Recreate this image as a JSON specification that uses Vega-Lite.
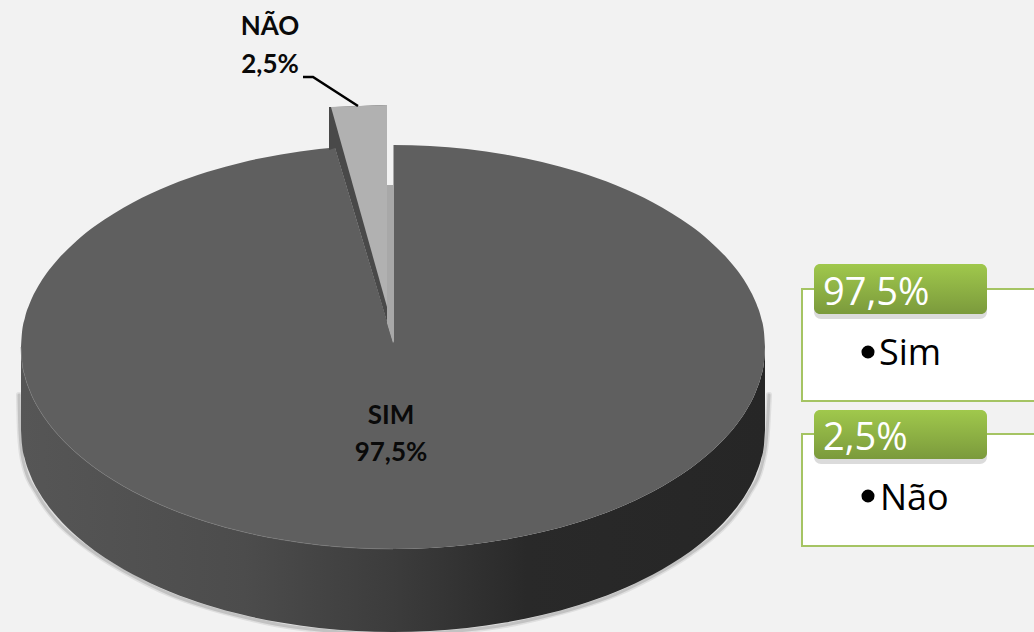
{"$schema":"https://vega.github.io/schema/vega-lite/v6.json","width":1034,"height":632,"padding":0,"autosize":{"type":"none"},"background":"#f2f2f2","config":{"view":{"stroke":null}},
"datasets":{
"disc":[{"x":21,"y":347,"y2":347,"y3":430},{"x":22,"y":332.2,"y2":361.8,"y3":444.8},{"x":25,"y":317.4,"y2":376.6,"y3":459.6},{"x":30,"y":302.8,"y2":391.2,"y3":474.2},{"x":40,"y":283.2,"y2":410.8,"y3":493.8},{"x":49,"y":270.1,"y2":423.9,"y3":506.9},{"x":58,"y":259.2,"y2":434.8,"y3":517.8},{"x":77,"y":240.4,"y2":453.6,"y3":536.6},{"x":95,"y":226.1,"y2":467.9,"y3":550.9},{"x":114,"y":213.4,"y2":480.6,"y3":563.6},{"x":133,"y":202.5,"y2":491.5,"y3":574.5},{"x":151,"y":193.6,"y2":500.4,"y3":583.4},{"x":170,"y":185.3,"y2":508.7,"y3":591.7},{"x":207,"y":172.1,"y2":521.9,"y3":604.9},{"x":244,"y":161.9,"y2":532.1,"y3":615.1},{"x":281,"y":154.4,"y2":539.6,"y3":622.6},{"x":319,"y":149,"y2":545,"y3":628},{"x":356,"y":146,"y2":548,"y3":631},{"x":393,"y":145,"y2":549,"y3":632},{"x":430,"y":146,"y2":548,"y3":631},{"x":467,"y":149,"y2":545,"y3":628},{"x":505,"y":154.4,"y2":539.6,"y3":622.6},{"x":542,"y":161.9,"y2":532.1,"y3":615.1},{"x":579,"y":172.1,"y2":521.9,"y3":604.9},{"x":616,"y":185.3,"y2":508.7,"y3":591.7},{"x":635,"y":193.6,"y2":500.4,"y3":583.4},{"x":653,"y":202.5,"y2":491.5,"y3":574.5},{"x":672,"y":213.4,"y2":480.6,"y3":563.6},{"x":691,"y":226.1,"y2":467.9,"y3":550.9},{"x":709,"y":240.4,"y2":453.6,"y3":536.6},{"x":728,"y":259.2,"y2":434.8,"y3":517.8},{"x":737,"y":270.1,"y2":423.9,"y3":506.9},{"x":746,"y":283.2,"y2":410.8,"y3":493.8},{"x":756,"y":302.8,"y2":391.2,"y3":474.2},{"x":761,"y":317.4,"y2":376.6,"y3":459.6},{"x":764,"y":332.2,"y2":361.8,"y3":444.8},{"x":765,"y":347,"y2":347,"y3":430}],
"halo":[{"x":19,"y":395},{"x":20,"y":432},{"x":23,"y":460},{"x":38,"y":495},{"x":56,"y":520},{"x":75,"y":538},{"x":95,"y":553},{"x":133,"y":576},{"x":170,"y":594},{"x":207,"y":607},{"x":244,"y":617},{"x":281,"y":625},{"x":319,"y":630},{"x":356,"y":633},{"x":393,"y":634},{"x":430,"y":633},{"x":467,"y":630},{"x":505,"y":625},{"x":542,"y":617},{"x":579,"y":607},{"x":616,"y":594},{"x":653,"y":576},{"x":691,"y":553},{"x":711,"y":538},{"x":730,"y":520},{"x":748,"y":495},{"x":763,"y":460},{"x":767,"y":432},{"x":769,"y":395}],
"notch":[{"part":"gap","x":335,"y":147.5,"y2":147.5},{"part":"gap","x":356,"y":146,"y2":218},{"part":"gap","x":393.5,"y":144,"y2":343},
{"part":"strip","x":387,"y":185,"y2":323},{"part":"strip","x":393,"y":185,"y2":343},
{"part":"edge","x":329,"y":107,"y2":150},{"part":"edge","x":335,"y":107,"y2":148},{"part":"edge","x":387,"y":105,"y2":322},
{"part":"wedge","x":331,"y":107,"y2":107},{"part":"wedge","x":387,"y":105,"y2":307}],
"leader":[{"x":303,"y":77},{"x":313,"y":77},{"x":358,"y":106}],
"boxes":[{"x":802,"x2":1040,"y":289,"y2":401},{"x":802,"x2":1040,"y":434,"y2":546}],
"heads":[{"x":814,"x2":987,"y":264,"y2":314},{"x":814,"x2":987,"y":410,"y2":459}],
"pieLabels":[{"x":270,"y":35,"label":"NÃO"},{"x":270,"y":73,"label":"2,5%"},{"x":391,"y":424,"label":"SIM"},{"x":391,"y":461,"label":"97,5%"}],
"headLabels":[{"x":823,"y":305,"label":"97,5%"},{"x":823,"y":450,"label":"2,5%"}],
"items":[{"x":879,"y":365,"label":"Sim","bx":868,"by":352},{"x":880,"y":510,"label":"Não","bx":868,"by":496}]},
"encoding":{"x":{"field":"x","type":"quantitative","scale":{"domain":[0,1034],"nice":false,"zero":false},"axis":null},"y":{"field":"y","type":"quantitative","scale":{"domain":[632,0],"nice":false,"zero":false},"axis":null}},
"layer":[
{"data":{"name":"halo"},"mark":{"type":"line","interpolate":"monotone","stroke":"#8c8c8c","strokeWidth":6,"strokeCap":"round","opacity":0.18}},
{"data":{"name":"halo"},"mark":{"type":"line","interpolate":"monotone","stroke":"#8c8c8c","strokeWidth":3,"strokeCap":"round","opacity":0.35}},
{"data":{"name":"disc"},"mark":{"type":"area","interpolate":"monotone","fill":{"gradient":"linear","x1":0,"x2":1,"y1":0,"y2":0,"stops":[{"offset":0,"color":"#565656"},{"offset":0.3,"color":"#4c4c4c"},{"offset":0.5,"color":"#3c3c3c"},{"offset":0.68,"color":"#292929"},{"offset":1,"color":"#262626"}]}},"encoding":{"y":{"field":"y2","type":"quantitative"},"y2":{"field":"y3"}}},
{"data":{"name":"disc"},"mark":{"type":"area","interpolate":"monotone","fill":"#5f5f5f"},"encoding":{"y2":{"field":"y2"}}},
{"data":{"name":"disc"},"transform":[{"filter":"datum.x<=393"}],"mark":{"type":"line","interpolate":"monotone","stroke":"#7a7a7a","strokeWidth":1,"opacity":0.6},"encoding":{"y":{"field":"y2","type":"quantitative"}}},
{"data":{"name":"notch"},"transform":[{"filter":"datum.part=='gap'"}],"mark":{"type":"area","fill":"#f2f2f2"},"encoding":{"y2":{"field":"y2"}}},
{"data":{"name":"notch"},"transform":[{"filter":"datum.part=='strip'"}],"mark":{"type":"area","fill":"#a8a8a8"},"encoding":{"y2":{"field":"y2"}}},
{"data":{"name":"notch"},"transform":[{"filter":"datum.part=='edge'"}],"mark":{"type":"area","fill":"#494949"},"encoding":{"y2":{"field":"y2"}}},
{"data":{"name":"notch"},"transform":[{"filter":"datum.part=='wedge'"}],"mark":{"type":"area","fill":"#b1b1b1"},"encoding":{"y2":{"field":"y2"}}},
{"data":{"name":"leader"},"mark":{"type":"line","stroke":"#000000","strokeWidth":2.5}},
{"data":{"name":"pieLabels"},"mark":{"type":"text","font":"Lato","fontWeight":"bold","fontSize":26,"align":"center","baseline":"alphabetic","fill":"#0a0a0a"},"encoding":{"text":{"field":"label"}}},
{"data":{"name":"boxes"},"mark":{"type":"rect","fill":"#ffffff","stroke":"#a5c463","strokeWidth":2,"clip":true},"encoding":{"x2":{"field":"x2"},"y2":{"field":"y2"}}},
{"data":{"name":"heads"},"mark":{"type":"rect","fill":"#000000","opacity":0.14,"cornerRadius":7,"yOffset":4,"y2Offset":5},"encoding":{"x2":{"field":"x2"},"y2":{"field":"y2"}}},
{"data":{"name":"heads"},"mark":{"type":"rect","cornerRadius":6,"fill":{"gradient":"linear","x1":0,"x2":0,"y1":0,"y2":1,"stops":[{"offset":0,"color":"#a0c84c"},{"offset":1,"color":"#7b9a3c"}]}},"encoding":{"x2":{"field":"x2"},"y2":{"field":"y2"}}},
{"data":{"name":"headLabels"},"mark":{"type":"text","font":"Open Sans","fontSize":38,"align":"left","baseline":"alphabetic","fill":"#ffffff"},"encoding":{"text":{"field":"label"}}},
{"data":{"name":"items"},"mark":{"type":"point","filled":true,"fill":"#000000","opacity":1,"size":170},"encoding":{"x":{"field":"bx","type":"quantitative"},"y":{"field":"by","type":"quantitative"}}},
{"data":{"name":"items"},"mark":{"type":"text","font":"Open Sans","fontSize":36,"align":"left","baseline":"alphabetic","fill":"#000000"},"encoding":{"text":{"field":"label"}}}
]}
